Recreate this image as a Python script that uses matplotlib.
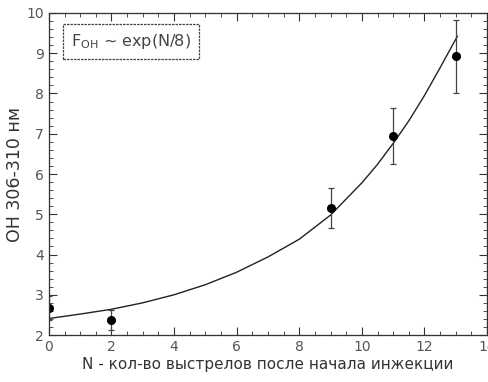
import numpy as np
import matplotlib
matplotlib.use("Agg")
import matplotlib.pyplot as plt
from matplotlib.ticker import MultipleLocator

# measured points
shots = [0, 2, 9, 11, 13]
oh_signal = [2.67, 2.37, 5.15, 6.94, 8.92]
oh_err = [0.30, 0.25, 0.50, 0.70, 0.90]

# fit curve
fit_n = [0, 1, 2, 3, 4, 5, 6, 7, 8, 9, 9.5, 10, 10.5, 11, 11.5, 12, 12.5, 13.05]
fit_oh = [2.41, 2.52, 2.64, 2.80, 3.00, 3.25, 3.56, 3.94, 4.38, 4.98, 5.38, 5.78,
          6.24, 6.76, 7.32, 7.95, 8.64, 9.42]

fit_label = r"F$_{\mathrm{OH}}$ ~ exp(N/8)"

plt.rcParams['font.family'] = ['DejaVu Sans']

fig = plt.figure(figsize=(4.89, 3.82), dpi=100)
ax = fig.add_axes([0.100, 0.123, 0.896, 0.843])

ax.plot(fit_n, fit_oh, color="#222222", lw=1.0)
ax.errorbar(shots, oh_signal, yerr=oh_err, fmt="o", color="black",
            ms=5.5, ecolor="#444444", elinewidth=0.9, capsize=2.5, capthick=0.9)

ax.set_xlim(0, 14)
ax.set_ylim(2, 10)
ax.xaxis.set_major_locator(MultipleLocator(2))
ax.xaxis.set_minor_locator(MultipleLocator(0.5))
ax.yaxis.set_major_locator(MultipleLocator(1))
ax.yaxis.set_minor_locator(MultipleLocator(0.2))
ax.tick_params(which="both", direction="in", top=True, right=True,
               colors="#333333", labelcolor="#555555", labelsize=10)
ax.tick_params(which="major", length=6, width=0.8)
ax.tick_params(which="minor", length=3, width=0.6)
for s in ax.spines.values():
    s.set_linewidth(0.9)
    s.set_linestyle((0, (2, 0.6)))
    s.set_color("#333333")

ax.set_xlabel("N - кол-во выстрелов после начала инжекции", fontsize=11, color="#333333", labelpad=2)
ax.set_ylabel("OH 306-310 нм", fontsize=12.5, color="#333333", labelpad=2)

ax.text(0.05, 0.912, fit_label, transform=ax.transAxes, fontsize=11.5, color="#444444",
        va="center", ha="left",
        bbox=dict(boxstyle="square,pad=0.5", fc="white", ec="#444444", lw=0.9, ls=(0, (2, 0.8))))

fig.savefig("out.png", dpi=100)
